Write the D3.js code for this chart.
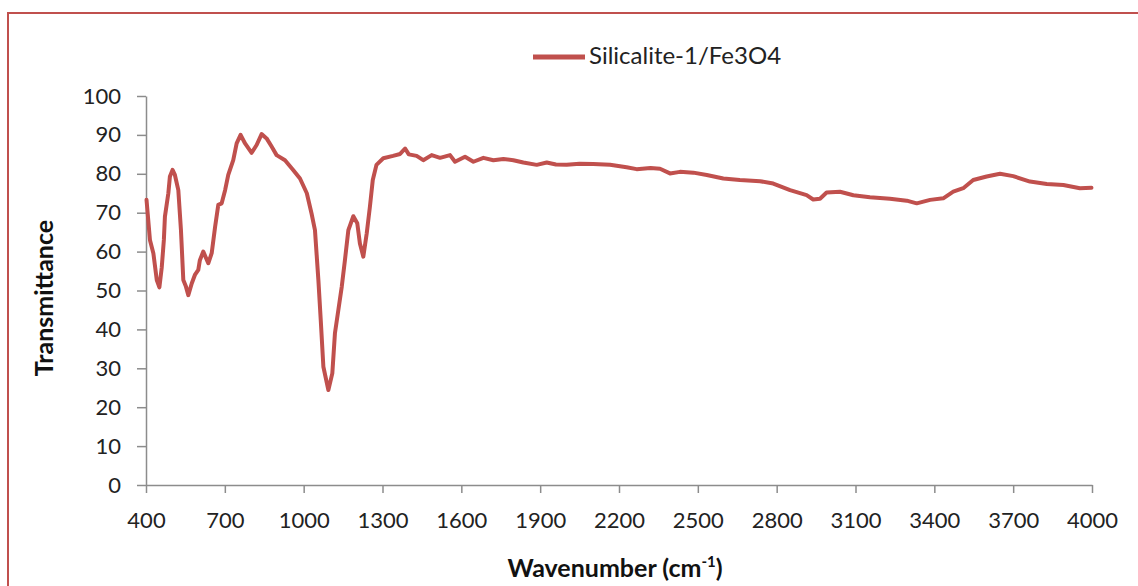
<!DOCTYPE html>
<html>
<head>
<meta charset="utf-8">
<script src="https://cdn.jsdelivr.net/npm/d3@7"></script>
<style>
  body { margin: 0; background: #fff; }
  svg { display: block; font-family: Lato, "Open Sans", sans-serif; }
</style>
</head>
<body>
<div id="chartDiv"></div>
<script>
// values
var wavenumber = [402, 415, 428, 441, 451, 460, 468, 472, 485, 491, 501, 510, 523, 533, 542, 552, 561, 574, 586, 599,
    605, 618, 637, 650, 663, 675, 688, 701, 713, 732, 745, 760, 777, 802, 821, 840, 859, 878, 897, 929,
    960, 986, 1012, 1030, 1043, 1056, 1065, 1075, 1094, 1109, 1119, 1132, 1145, 1157, 1170, 1189, 1204, 1214, 1227, 1240,
    1252, 1263, 1277, 1303, 1340, 1367, 1386, 1400, 1430, 1455, 1487, 1519, 1557, 1576, 1614, 1646, 1684, 1722, 1760, 1798,
    1836, 1887, 1925, 1960, 2001, 2050, 2102, 2166, 2229, 2267, 2320, 2356, 2394, 2432, 2483, 2534, 2597, 2660, 2737, 2787,
    2851, 2914, 2939, 2965, 2990, 3041, 3092, 3155, 3231, 3295, 3333, 3384, 3434, 3472, 3510, 3548, 3599, 3650, 3700, 3764,
    3828, 3891, 3954, 3998];
var transmittance = [73.3, 63, 59.6, 52.7, 50.8, 56, 63, 69, 75, 79.3, 81, 79.7, 75.8, 65.5, 52.7, 51, 48.8, 51.8, 54, 55.3,
    57.8, 60, 57, 59.6, 66.4, 72, 72.4, 75.8, 79.7, 83.5, 87.8, 90, 87.8, 85.4, 87.4, 90.2, 89.1, 87, 84.8, 83.5,
    81, 78.8, 75, 69.8, 65.5, 52.7, 42.4, 30.4, 24.4, 28.7, 39, 45, 51, 57.8, 65.5, 69.1, 67.3, 62.1, 58.7, 64.7,
    71.5, 78.4, 82.3, 84, 84.6, 85.1, 86.5, 85, 84.6, 83.5, 84.8, 84.1, 84.8, 83.1, 84.4, 83.1, 84.1, 83.5, 83.8, 83.5,
    82.9, 82.3, 82.9, 82.4, 82.3, 82.6, 82.5, 82.3, 81.7, 81.2, 81.5, 81.3, 80.1, 80.5, 80.3, 79.7, 78.8, 78.4, 78.1, 77.5,
    75.8, 74.5, 73.4, 73.6, 75.2, 75.4, 74.5, 74, 73.6, 73.1, 72.4, 73.3, 73.7, 75.4, 76.3, 78.4, 79.3, 80, 79.4, 78,
    77.4, 77.1, 76.3, 76.4];
var xTicks = [400, 700, 1000, 1300, 1600, 1900, 2200, 2500, 2800, 3100, 3400, 3700, 4000];
var yTicks = [0, 10, 20, 30, 40, 50, 60, 70, 80, 90, 100];
var seriesName = "Silicalite-1/Fe3O4";

var width = 1138, height = 586;
var margin = {top: 96, right: 46, bottom: 101, left: 146};
var lineColor = "#c0504d";
var axisColor = "#8c8c8c";

var svg = d3.select("#chartDiv").append("svg")
    .attr("width", width)
    .attr("height", height);

// chart frame (only top and left edges are visible)
svg.append("rect")
    .attr("x", 8).attr("y", 13)
    .attr("width", 1200).attr("height", 700)
    .attr("fill", "none")
    .attr("stroke", lineColor)
    .attr("stroke-width", 2);

var x = d3.scaleLinear()
    .domain([400, 4000])
    .range([margin.left, width - margin.right]);

var y = d3.scaleLinear()
    .domain([0, 100])
    .range([height - margin.bottom, margin.top]);

var xAxis = d3.axisBottom(x)
    .tickValues(xTicks)
    .tickSize(8)
    .tickSizeOuter(0)
    .tickFormat(d3.format("d"));

var yAxis = d3.axisLeft(y)
    .tickValues(yTicks)
    .tickSize(9)
    .tickSizeOuter(0)
    .tickPadding(16);

var gx = svg.append("g")
    .attr("transform", `translate(0, ${y(0)})`)
    .call(xAxis);
gx.selectAll("text").attr("y", 43).attr("dy", null);

var gy = svg.append("g")
    .attr("transform", `translate(${x(400)}, 0)`)
    .call(yAxis);

[gx, gy].forEach((g) => {
    g.select(".domain").attr("stroke", axisColor).attr("stroke-width", 1.5);
    g.selectAll(".tick line").attr("stroke", axisColor).attr("stroke-width", 1.5);
    g.selectAll("text").attr("fill", "#222").style("font-size", "22px").style("font-family", "Lato");
});

let data = wavenumber.map((w, i) => ({w: w, t: transmittance[i]}));

let line = d3.line()
    .x(d => x(d.w))
    .y(d => y(d.t));

svg.append("path")
    .datum(data)
    .attr("d", line)
    .attr("fill", "none")
    .attr("stroke", lineColor)
    .attr("stroke-width", 4)
    .attr("stroke-linejoin", "round")
    .attr("stroke-linecap", "round");

// legend
svg.append("line")
    .attr("x1", 533).attr("x2", 585)
    .attr("y1", 57).attr("y2", 57)
    .attr("stroke", lineColor)
    .attr("stroke-width", 5);

svg.append("text")
    .attr("x", 589).attr("y", 64)
    .style("font-size", "24px")
    .attr("fill", "#222")
    .text(seriesName);

// axis titles
svg.append("text")
    .attr("transform", "translate(53, 298) rotate(-90)")
    .attr("text-anchor", "middle")
    .style("font-size", "25px")
    .style("font-weight", "bold")
    .attr("fill", "#111")
    .text("Transmittance");

let xt = svg.append("text")
    .attr("x", 615).attr("y", 577)
    .attr("text-anchor", "middle")
    .style("font-size", "25px")
    .style("font-weight", "bold")
    .attr("fill", "#111");
xt.append("tspan").text("Wavenumber (cm");
xt.append("tspan").attr("dy", -10).style("font-size", "15px").text("-1");
xt.append("tspan").attr("dy", 10).text(")");
</script>
</body>
</html>
